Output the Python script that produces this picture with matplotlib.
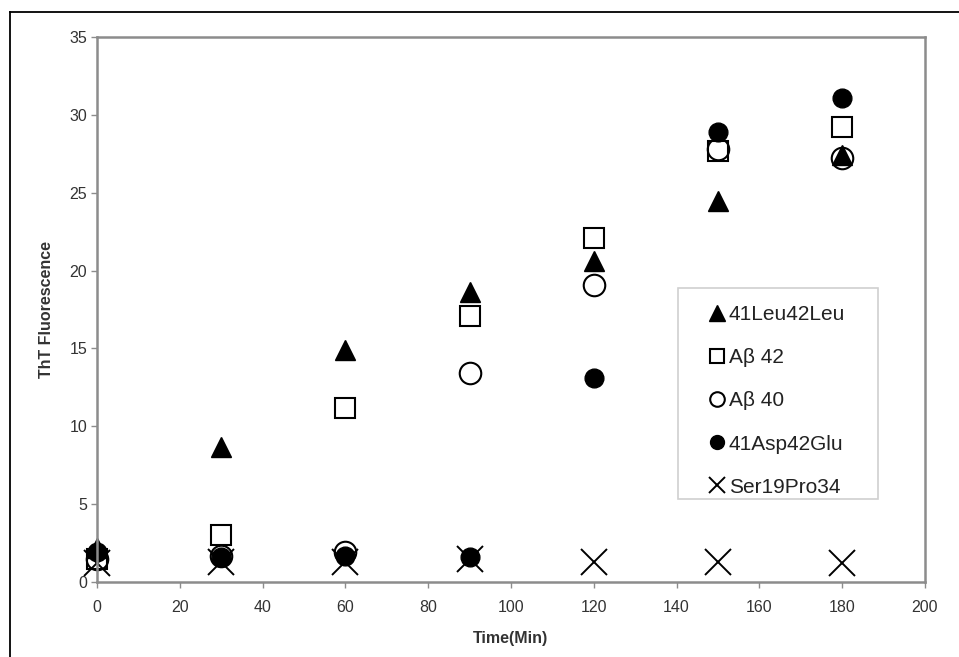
import matplotlib.pyplot as plt
from matplotlib.lines import Line2D
from matplotlib.patches import Rectangle

plt.rcParams['font.family'] = ['Liberation Sans', 'DejaVu Sans']

# sampling times (min)
time_min = [0, 30, 60, 90, 120, 150, 180]

# ThT fluorescence readings per peptide
leu41_leu42 = [2.2, 8.7, 14.9, 18.6, 20.6, 24.5, 27.4]
abeta42 = [1.5, 3.0, 11.2, 17.1, 22.1, 27.7, 29.2]
abeta40 = [1.5, 1.7, 1.9, 13.4, 19.1, 27.8, 27.2]
asp41_glu42 = [1.9, 1.6, 1.7, 1.6, 13.1, 28.9, 31.1]
ser19_pro34 = [1.2, 1.3, 1.3, 1.5, 1.3, 1.3, 1.2]

series_names = ['41Leu42Leu', 'A\u03b2 42', 'A\u03b2 40', '41Asp42Glu', 'Ser19Pro34']

fig = plt.figure(figsize=(9.59, 6.57), dpi=100)
ax = fig.add_axes([97 / 959, 1 - 582 / 657, 828 / 959, 545 / 657])

styles = [
    dict(marker='^', ms=15, mfc='black', mec='black', mew=1.0),
    dict(marker='s', ms=15, mfc='none', mec='black', mew=1.5),
    dict(marker='o', ms=15.5, mfc='none', mec='black', mew=1.5),
    dict(marker='o', ms=13.5, mfc='black', mec='black', mew=1.0),
    dict(marker='x', ms=19, mfc='none', mec='black', mew=1.4),
]
legend_ms = [11, 10.5, 10.5, 10, 11.5]

all_series = [leu41_leu42, abeta42, abeta40, asp41_glu42, ser19_pro34]
for vals, name, st in zip(all_series, series_names, styles):
    ax.plot(time_min, vals, linestyle='none', label=name, clip_on=False, **st)

ax.set_xlim(0, 200)
ax.set_ylim(0, 35)
ax.set_xticks(range(0, 201, 20))
ax.set_yticks(range(0, 36, 5))

spine_col = '#8c8c8c'
for s in ax.spines.values():
    s.set_color(spine_col)
    s.set_linewidth(1.8)
ax.tick_params(axis='both', colors=spine_col, labelcolor='#333333',
               labelsize=11.5, length=4, width=1.0)
ax.tick_params(axis='x', pad=9)
ax.tick_params(axis='y', pad=3)

ax.set_xlabel('Time(Min)', fontsize=11.5, fontweight='bold', color='#333333')
ax.set_ylabel('ThT Fluorescence', fontsize=11.5, fontweight='bold', color='#333333')
ax.xaxis.set_label_coords(0.5, -0.0905)
ax.yaxis.set_label_coords(-0.052, 0.5)

# legend entries without frame; box drawn separately
leg = ax.legend(loc='upper left', bbox_to_anchor=(707 / 959, 1 - 305 / 657),
                bbox_transform=fig.transFigure, fontsize=15, markerscale=1,
                frameon=False, handlelength=1.0, handletextpad=0.05,
                labelspacing=1.16, borderpad=0, borderaxespad=0)
for h, ms in zip(leg.legend_handles, legend_ms):
    h.set_markersize(ms)
for t in leg.get_texts():
    t.set_color('#222222')
leg.set_zorder(5)

fig.add_artist(Rectangle((678 / 959, 1 - 499 / 657), 200 / 959, 211 / 657,
                         transform=fig.transFigure, fill=False,
                         edgecolor='#d0d0d0', lw=1.2))

# outer frame lines around the figure
fig.add_artist(Line2D([10 / 959, 1.0], [1 - 12 / 657, 1 - 12 / 657],
                      transform=fig.transFigure, color='black', lw=1.3))
fig.add_artist(Line2D([10 / 959, 10 / 959], [0, 1 - 12 / 657],
                      transform=fig.transFigure, color='black', lw=1.3))

fig.savefig('out.png', dpi=100)
